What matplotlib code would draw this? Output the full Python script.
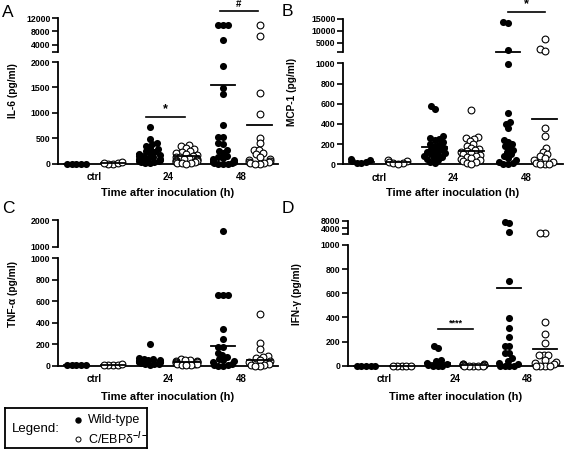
import numpy as np
import matplotlib
matplotlib.use("Agg")
import matplotlib.pyplot as plt

plt.rcParams['font.family'] = ['Liberation Sans', 'DejaVu Sans']
plt.rcParams['font.weight'] = 'bold'
plt.rcParams['mathtext.fontset'] = 'custom'
plt.rcParams['mathtext.rm'] = 'Liberation Sans'

W, H = 567, 455

categories = ['ctrl', '24', '48']
series_labels = ['Wild-type', r'C/EBPδ$^{-/-}$']
xlabel = 'Time after inoculation (h)'

# IL-6 (pg/ml), one list per time point: ctrl, 24, 48
il6_wt = [[0, 0, 0, 0, 0],
          [720, 490, 400, 380, 350, 300, 280, 250, 220, 200, 180, 160, 150, 130, 120, 100, 90, 80, 60, 50, 40, 30, 20, 10, 5],
          [10000, 10000, 10000, 5500, 1930, 1480, 1360, 760, 530, 530, 400, 380, 260, 240, 200, 150, 120, 100, 80, 60, 40, 30, 20, 10, 5, 0, 0, 0]]
il6_ko = [[0, 0, 5, 10, 25],
          [360, 340, 300, 280, 250, 220, 200, 180, 160, 150, 130, 120, 100, 90, 80, 70, 60, 50, 40, 30, 20, 15, 10, 5, 0],
          [10000, 6700, 1390, 980, 500, 400, 270, 260, 200, 180, 130, 80, 60, 50, 30, 20, 10, 5, 0, 0]]
il6_mean_wt = [0, 180, 1550]
il6_mean_ko = [8, 150, 750]

# MCP-1 (pg/ml)
mcp_wt = [[50, 40, 30, 20, 15, 10],
          [580, 545, 280, 260, 250, 240, 220, 200, 190, 180, 160, 150, 140, 130, 120, 110, 100, 90, 80, 70, 60, 50, 40, 20, 10],
          [13900, 13500, 1900, 990, 505, 420, 400, 356, 240, 220, 200, 180, 160, 140, 120, 100, 80, 60, 40, 20, 10, 0, 0]]
mcp_ko = [[40, 30, 20, 15, 10, 5],
          [540, 270, 260, 250, 230, 200, 180, 160, 150, 140, 130, 120, 110, 100, 90, 80, 70, 60, 50, 40, 30, 20, 10, 5],
          [6500, 2200, 1700, 360, 280, 160, 120, 100, 80, 60, 40, 20, 10, 0, 0, 0]]
mcp_mean_wt = [25, 170, 1200]
mcp_mean_ko = [20, 132, 445]

# TNF-alpha (pg/ml)
tnf_wt = [[5, 5, 5, 5, 5],
          [200, 70, 65, 60, 55, 50, 45, 40, 40, 35, 30, 30, 25, 20, 20, 15, 10],
          [1600, 660, 660, 660, 339, 248, 177, 177, 121, 100, 80, 60, 50, 40, 30, 20, 10, 5, 0, 0]]
tnf_ko = [[5, 5, 10, 10, 15],
          [60, 55, 50, 45, 40, 35, 30, 30, 25, 20, 20, 15, 10, 10, 5],
          [480, 210, 160, 90, 80, 70, 50, 40, 30, 20, 10, 5, 0, 0]]
tnf_mean_wt = [5, 40, 180]
tnf_mean_ko = [8, 30, 50]

# IFN-gamma (pg/ml)
ifn_wt = [[0, 0, 0, 0, 0],
          [165, 145, 45, 40, 20, 10, 5, 0, 0, 0],
          [7300, 6600, 1800, 705, 393, 310, 240, 163, 163, 108, 108, 60, 40, 20, 10, 0, 0, 0, 0]]
ifn_ko = [[0, 0, 0, 0, 0],
          [15, 12, 10, 8, 5, 5, 3, 0, 0, 0, 0, 0],
          [1400, 1400, 365, 262, 190, 89, 89, 89, 50, 30, 20, 10, 0, 0, 0, 0]]
ifn_mean_wt = [0, 25, 640]
ifn_mean_ko = [0, 5, 135]

fig = plt.figure(figsize=(W / 100, H / 100), dpi=100)


def add_ax(left, top, right, bottom):
    return fig.add_axes([left / W, 1 - bottom / H, (right - left) / W, (bottom - top) / H])


def swarm(ypx, dx=4.6, dy=5.0, maxw=10.5):
    # beeswarm in pixel space with an elliptic footprint; points may overlap a bit
    xs = np.zeros(len(ypx))
    done = []

    def hits(c, i):
        return any(((c - xs[j]) / dx) ** 2 + ((ypx[i] - ypx[j]) / dy) ** 2 < 1 - 1e-6 for j in done)

    for i in np.argsort(ypx, kind='stable'):
        cands = [0.0]
        for j in done:
            t = (ypx[i] - ypx[j]) / dy
            if abs(t) < 1:
                w = dx * np.sqrt(1 - t * t)
                cands += [xs[j] - w, xs[j] + w]
        cands.sort(key=abs)
        best = next((c for c in cands if not hits(c, i)), 0.0)
        xs[i] = np.clip(best, -maxw, maxw)
        done.append(i)
    return xs


def panel(box, lo_lim, up_lim, lo_ticks, up_ticks, up_labels, wt, ko, mean_wt, mean_ko,
          ylabel, ylab_xy, letter, letter_xy, xlab_y, sig):
    left, right, lo_top, lo_bot, up_top, up_bot = box
    axl = add_ax(left, lo_top, right, lo_bot)
    axu = add_ax(left, up_top, right, up_bot)
    for ax, lim in ((axl, lo_lim), (axu, up_lim)):
        ax.set_xlim(-0.5, 5.5)
        ax.set_ylim(*lim)
        ax.patch.set_alpha(0)
        for s in ['top', 'right']:
            ax.spines[s].set_visible(False)
        ax.spines['left'].set_linewidth(1.3)
        ax.spines['bottom'].set_linewidth(1.3)
        ax.tick_params(axis='y', length=4, width=1.2, pad=1.5, labelsize=6.3)
    axu.spines['bottom'].set_visible(False)
    axu.set_xticks([])
    axu.set_yticks(up_ticks)
    axu.set_yticklabels(up_labels)
    axl.set_yticks(lo_ticks)
    axl.set_xticks([0.5, 2.5, 4.5])
    axl.set_xticklabels(categories)
    axl.tick_params(axis='x', length=0, pad=6, labelsize=7)

    unit = (right - left) / 6.0
    for g in range(6):
        k = g // 2
        vals = np.array(wt[k] if g % 2 == 0 else ko[k], dtype=float)
        ypx = np.array([(axl if v <= lo_lim[1] else axu).transData.transform((0, v))[1] for v in vals])
        xoff = swarm(ypx) / unit
        for ax, sel in ((axl, vals <= lo_lim[1]), (axu, vals > lo_lim[1])):
            if not sel.any():
                continue
            if g % 2 == 0:
                ax.scatter(g + xoff[sel], vals[sel], s=26, color='black', lw=0, zorder=3, clip_on=False)
            else:
                ax.scatter(g + xoff[sel], vals[sel], s=24, facecolor='white', edgecolor='black',
                           lw=0.8, zorder=3, clip_on=False)
        m = mean_wt[k] if g % 2 == 0 else mean_ko[k]
        ax = axl if m <= lo_lim[1] else axu
        ax.plot([g - 0.34, g + 0.34], [m, m], color='black', lw=1.3, zorder=4, clip_on=False)

    for where, x0, x1, y, txt, ty, fs in sig:
        ax = axl if where == 'lo' else axu
        ax.plot([x0, x1], [y, y], color='black', lw=1.2, clip_on=False)
        ax.text((x0 + x1) / 2, ty, txt, ha='center', va='bottom', fontsize=fs, clip_on=False)

    fig.text(ylab_xy[0] / W, 1 - ylab_xy[1] / H, ylabel, rotation=90, ha='center', va='center',
             fontsize=7.3)
    fig.text(letter_xy[0] / W, 1 - letter_xy[1] / H, letter, fontsize=12.5, fontweight='normal',
             ha='left', va='baseline')
    fig.text((left + right) / 2 / W, 1 - xlab_y / H, xlabel, ha='center', va='center', fontsize=8)


panel((58, 278, 62, 163.5, 18, 51.5), (0, 2000), (2000, 12000),
      [0, 500, 1000, 1500, 2000], [2000, 4000, 8000, 12000], ['', '4000', '8000', '12000'],
      il6_wt, il6_ko, il6_mean_wt, il6_mean_ko, 'IL-6 (pg/ml)', (13, 91), 'A', (2, 17), 193,
      [('lo', 1.9, 2.95, 925, '*', 960, 9), ('up', 3.92, 4.95, 14100, '#', 14600, 7)])
panel((343, 563, 63.3, 164.3, 19, 52.2), (0, 1000), (1000, 15000),
      [0, 200, 400, 600, 800, 1000], [1000, 5000, 10000, 15000], ['', '5000', '10000', '15000'],
      mcp_wt, mcp_ko, mcp_mean_wt, mcp_mean_ko, 'MCP-1 (pg/ml)', (292, 92), 'B', (282, 16), 193,
      [('up', 4.0, 5.0, 18000, '*', 18600, 9)])
panel((58, 278, 258.3, 365.7, 220, 246.7), (0, 1000), (1000, 2000),
      [0, 200, 400, 600, 800, 1000], [1000, 2000], ['1000', '2000'],
      tnf_wt, tnf_ko, tnf_mean_wt, tnf_mean_ko, 'TNF-α (pg/ml)', (13, 294), 'C', (2, 213), 397, [])
panel((348, 563, 245, 365.7, 220.7, 234), (0, 1000), (1000, 8000),
      [0, 200, 400, 600, 800, 1000], [1000, 4000, 8000], ['', '4000', '8000'],
      ifn_wt, ifn_ko, ifn_mean_wt, ifn_mean_ko, 'IFN-γ (pg/ml)', (297, 294), 'D', (282, 213), 397,
      [('lo', 2.0, 3.0, 300, '****', 312, 6.5)])

# legend box
lg = add_ax(5, 408, 147, 448)
lg.set_xlim(0, 142)
lg.set_ylim(40, 0)
lg.set_xticks([])
lg.set_yticks([])
for s in lg.spines.values():
    s.set_linewidth(1.3)
lg.text(7, 21, 'Legend:', fontsize=9.5, fontweight='normal', va='center')
lg.plot([73], [12], 'o', ms=3.6, color='black')
lg.plot([73], [31], 'o', ms=3.6, mfc='white', mec='black', mew=0.7)
lg.text(83, 12, series_labels[0], fontsize=9, fontweight='normal', va='center')
lg.text(83, 31, series_labels[1], fontsize=9, fontweight='normal', va='center')

fig.savefig('out.png', dpi=100)
